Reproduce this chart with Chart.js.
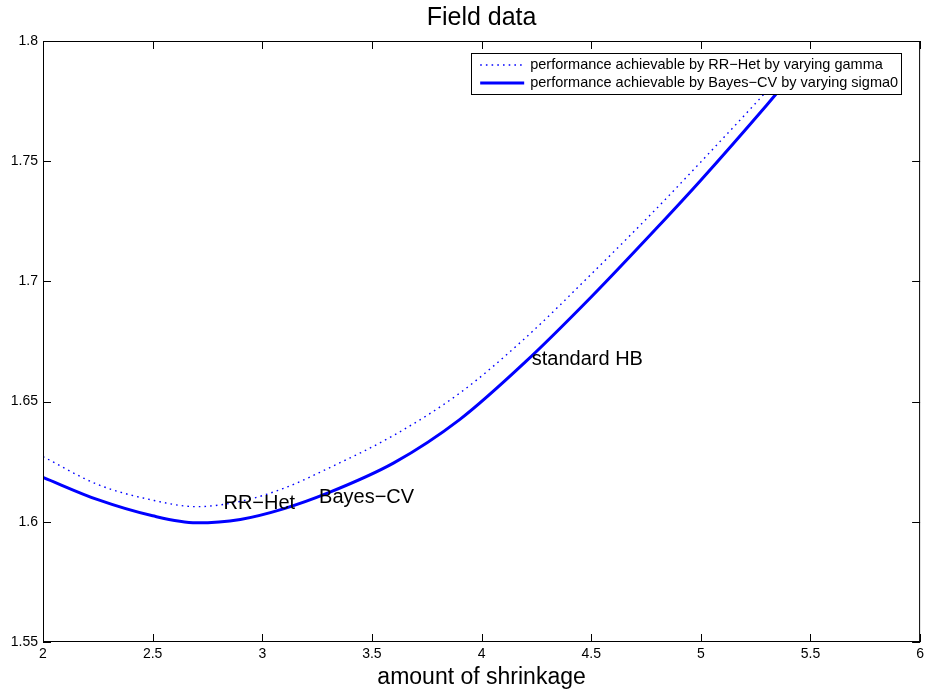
<!DOCTYPE html>
<html>
<head>
<meta charset="utf-8">
<script src="https://cdn.jsdelivr.net/npm/chart.js@4.4.1/dist/chart.umd.min.js"></script>
<style>
  html, body { margin: 0; padding: 0; background: #fff; }
  canvas { display: block; }
</style>
</head>
<body>
<canvas id="myChart" width="928" height="691"></canvas>
<script>
// Data
const xDotted = [2, 2.25, 2.5, 2.7, 2.9, 3.1, 3.3, 3.6, 3.9, 4.2, 4.5, 4.8, 5.0, 5.3, 5.4]
const yDotted = [1.6271, 1.6155, 1.6090, 1.6063, 1.6085, 1.6140, 1.6222, 1.6360, 1.6535, 1.6765, 1.7030, 1.7305, 1.7497, 1.7791, 1.7893]
const xSolid = [2, 2.25, 2.5, 2.7, 2.9, 3.1, 3.3, 3.6, 3.9, 4.2, 4.5, 4.8, 5.0, 5.3, 5.45]
const ySolid = [1.6185, 1.6092, 1.6025, 1.5996, 1.6010, 1.6055, 1.6120, 1.6245, 1.6425, 1.6665, 1.6935, 1.7223, 1.7421, 1.7733, 1.7895]
const seriesNames = ['performance achievable by RR\u2212Het by varying gamma', 'performance achievable by Bayes\u2212CV by varying sigma0']

const noteNames = ['RR\u2212Het', 'Bayes\u2212CV', 'standard HB']
const noteX = [2.823, 3.259, 4.229]
const noteY = [1.6078, 1.6103, 1.6675]

const xTicks = [2, 2.5, 3, 3.5, 4, 4.5, 5, 5.5, 6]
const xTickLabels = ['2', '2.5', '3', '3.5', '4', '4.5', '5', '5.5', '6']
const yTicks = [1.55, 1.6, 1.65, 1.7, 1.75, 1.8]
const yTickLabels = ['1.55', '1.6', '1.65', '1.7', '1.75', '1.8']

const FONT = '"Liberation Sans", Arial, Helvetica, sans-serif'
const BLUE = '#0000ff'

const toPoints = (xs, ys) => xs.map((x, i) => ({ x: x, y: ys[i] }))

// Box, inward ticks on all four sides, text notes and the legend, MATLAB style
const matlabAxes = {
    id: 'matlabAxes',
    afterDatasetsDraw(chart) {
        const ctx = chart.ctx
        const area = chart.chartArea
        const xs = chart.scales.x
        const ys = chart.scales.y
        const tick = 8

        ctx.save()
        // notes
        ctx.fillStyle = '#000'
        ctx.font = '20px ' + FONT
        ctx.textAlign = 'left'
        ctx.textBaseline = 'middle'
        noteNames.forEach((name, i) => {
            ctx.fillText(name, xs.getPixelForValue(noteX[i]), ys.getPixelForValue(noteY[i]))
        })

        // frame
        ctx.strokeStyle = '#000'
        ctx.lineWidth = 1
        ctx.strokeRect(area.left + 0.5, area.top + 0.5, area.right - area.left - 1, area.bottom - area.top - 1)
        ctx.beginPath()
        xTicks.forEach(v => {
            const px = Math.round(xs.getPixelForValue(v)) + 0.5
            ctx.moveTo(px, area.bottom); ctx.lineTo(px, area.bottom - tick)
            ctx.moveTo(px, area.top); ctx.lineTo(px, area.top + tick)
        })
        yTicks.forEach(v => {
            const py = Math.round(ys.getPixelForValue(v)) + 0.5
            ctx.moveTo(area.left, py); ctx.lineTo(area.left + tick, py)
            ctx.moveTo(area.right, py); ctx.lineTo(area.right - tick, py)
        })
        ctx.stroke()

        // legend (opaque, covers the curve ends)
        ctx.font = '14.5px ' + FONT
        const textW = Math.max(...seriesNames.map(s => ctx.measureText(s).width))
        const boxW = 59 + textW + 3
        const boxH = 41
        const right = area.right - 19
        const left = right - boxW
        const top = area.top + 12
        ctx.fillStyle = '#fff'
        ctx.fillRect(left, top, boxW, boxH)
        ctx.strokeStyle = '#000'
        ctx.strokeRect(Math.round(left) + 0.5, top + 0.5, Math.round(boxW), boxH)
        const rows = [top + 12, top + 30]
        chart.data.datasets.forEach((ds, i) => {
            ctx.beginPath()
            ctx.strokeStyle = ds.borderColor
            ctx.lineWidth = ds.borderWidth
            ctx.setLineDash(ds.borderDash || [])
            ctx.moveTo(left + 9, rows[i])
            ctx.lineTo(left + 53, rows[i])
            ctx.stroke()
            ctx.setLineDash([])
            ctx.fillStyle = '#000'
            ctx.textBaseline = 'middle'
            ctx.fillText(ds.label, left + 59, rows[i])
        })
        ctx.restore()
    }
}

const ctx = document.getElementById('myChart').getContext('2d')
const myChart = new Chart(ctx, {
    type: 'line',
    data: {
        datasets: [{
            label: seriesNames[0],
            data: toPoints(xDotted, yDotted),
            borderColor: BLUE,
            borderWidth: 1.4,
            borderDash: [1.6, 4.1],
            pointRadius: 0,
            cubicInterpolationMode: 'monotone',
            fill: false
        }, {
            label: seriesNames[1],
            data: toPoints(xSolid, ySolid),
            borderColor: BLUE,
            borderWidth: 3,
            pointRadius: 0,
            cubicInterpolationMode: 'monotone',
            fill: false
        }]
    },
    options: {
        responsive: false,
        animation: false,
        devicePixelRatio: 1,
        layout: { padding: { top: 0, right: 5, bottom: 0, left: 0 } },
        plugins: {
            legend: { display: false },
            tooltip: { enabled: false },
            title: {
                display: true,
                text: 'Field data',
                fullSize: false,
                color: '#000',
                font: { family: FONT, size: 25, weight: 'normal' },
                padding: { top: 3, bottom: 8 }
            }
        },
        scales: {
            x: {
                type: 'linear',
                min: 2,
                max: 6,
                afterBuildTicks: s => { s.ticks = xTicks.map(v => ({ value: v })) },
                afterFit: s => { s.height = 49 },
                grid: { display: false, drawTicks: false },
                border: { display: false },
                ticks: {
                    autoSkip: false,
                    maxRotation: 0,
                    padding: 4,
                    color: '#000',
                    font: { family: FONT, size: 14 },
                    callback: (v, i) => xTickLabels[i]
                },
                title: {
                    display: true,
                    text: 'amount of shrinkage',
                    color: '#000',
                    font: { family: FONT, size: 23 },
                    padding: { top: 0, bottom: 0 }
                }
            },
            y: {
                type: 'linear',
                min: 1.55,
                max: 1.8,
                afterBuildTicks: s => { s.ticks = yTicks.map(v => ({ value: v })) },
                afterFit: s => { s.width = 43 },
                grid: { display: false, drawTicks: false },
                border: { display: false },
                ticks: {
                    autoSkip: false,
                    padding: 5,
                    color: '#000',
                    font: { family: FONT, size: 14 },
                    callback: (v, i) => yTickLabels[i]
                }
            }
        }
    },
    plugins: [matlabAxes]
})
</script>
</body>
</html>
